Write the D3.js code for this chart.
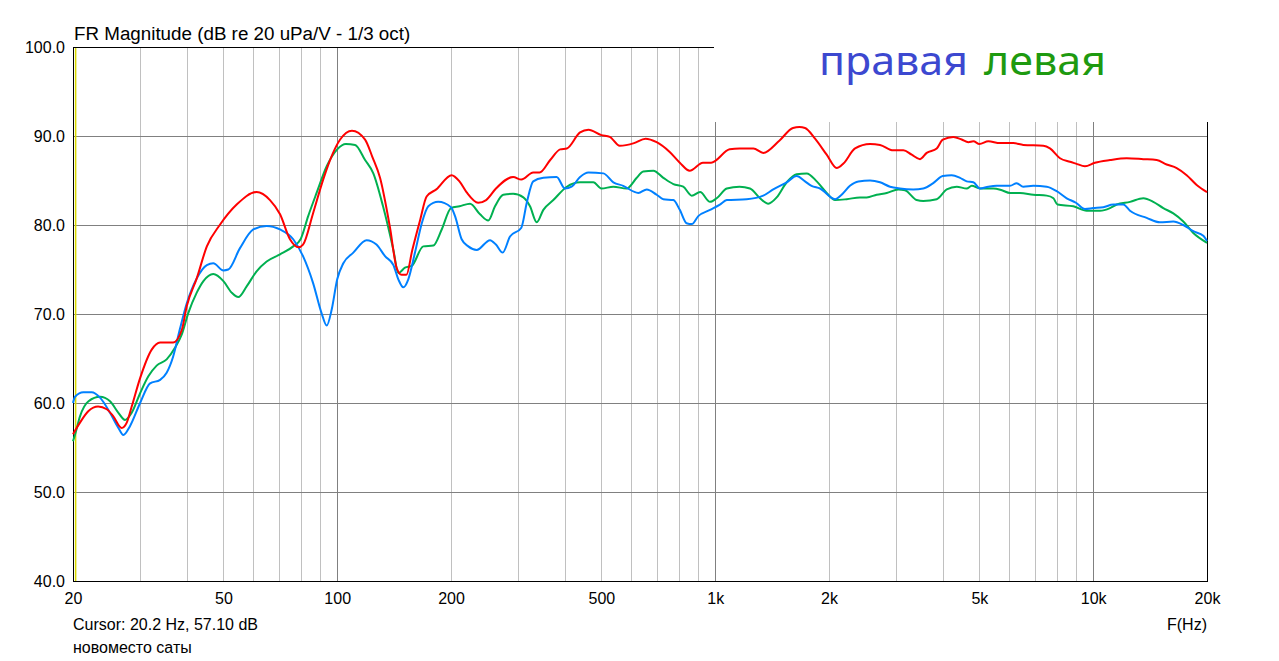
<!DOCTYPE html>
<html>
<head>
<meta charset="utf-8">
<script src="https://cdn.jsdelivr.net/npm/d3@7"></script>
<style>
  html, body { margin: 0; padding: 0; background: #fff; }
  svg { display: block; }
  .lbl { font-family: "Liberation Sans", Arial, sans-serif; fill: #000; }
  .leg { font-family: "Noto Sans", "Open Sans", sans-serif; }
</style>
</head>
<body>
<svg id="chart" width="1279" height="661"></svg>
<script>
// ---------- data ----------
const titleText = "FR Magnitude (dB re 20 uPa/V - 1/3 oct)";
const cursorText = "Cursor: 20.2 Hz, 57.10 dB";
const noteText = "новоместо саты";
const xAxisTitle = "F(Hz)";
const legendNames = ["правая", "левая"];

const yTicks = [40, 50, 60, 70, 80, 90, 100];
const xTickValues = [20, 50, 100, 200, 500, 1000, 2000, 5000, 10000, 20000];
const xTickLabels = ["20", "50", "100", "200", "500", "1k", "2k", "5k", "10k", "20k"];
const majorGridFreqs = [100, 1000, 10000];
const minorGridFreqs = [30, 40, 50, 60, 70, 80, 90, 200, 300, 400, 500, 600, 700, 800, 900,
                        2000, 3000, 4000, 5000, 6000, 7000, 8000, 9000];

// red (unlabelled) curve: [Hz, dB]
const redSeries = [[20,56.5],[20.87,57.8],[21.98,59.1],[23.3,59.6],[24.57,59.3],[25.57,58.5],[26.9,57.2],[27.75,57.8],[28.6,59.6],[30.1,62.8],[32.3,66.0],[34,66.8],[36.8,66.8],[38.8,68.2],[40,70.9],[42.5,74.0],[45.2,77.6],[48.9,80.0],[54.2,82.3],[61.2,83.7],[66.4,82.8],[70.6,81.2],[75,78.4],[79,77.5],[81.2,77.8],[86.3,81.3],[91.8,85.1],[97.5,88.1],[101.8,89.6],[109.4,90.6],[118.5,89.6],[124,87.6],[129.8,85.3],[137.8,79.8],[143.6,75.2],[148,74.4],[152.4,74.4],[158,77.2],[165.8,80.6],[172.4,83.2],[182.9,84.0],[200.8,85.6],[210.6,84.9],[219.8,83.7],[236,82.5],[247.7,82.8],[263,84.1],[292,85.4],[307,85.1],[330,85.9],[343,85.9],[366,87.3],[389,88.5],[405,88.6],[439,90.4],[462,90.7],[500,90.1],[526,89.9],[559,88.9],[610,89.2],[654,89.7],[700,89.3],[758,88.2],[806,87.0],[856,86.1],[928,87.0],[975,87.0],[1092,88.5],[1160,88.6],[1262,88.6],[1340,88.1],[1480,89.5],[1606,90.9],[1670,91.0],[1728,90.9],[1837,89.7],[1972,87.9],[2096,86.4],[2183,86.9],[2344,88.6],[2568,89.1],[2729,89.0],[2958,88.4],[3146,88.4],[3310,87.9],[3482,87.4],[3627,88.1],[3855,88.6],[4000,89.6],[4266,89.9],[4488,89.6],[4674,89.3],[4818,89.4],[5000,89.1],[5278,89.4],[5668,89.2],[6146,89.2],[6532,89.0],[7380,88.9],[7684,88.6],[8168,87.5],[8682,87.1],[9000,86.9],[9510,86.6],[10106,87.0],[11076,87.3],[12264,87.5],[13570,87.4],[14720,87.3],[15642,86.8],[16630,86.4],[17672,85.6],[18780,84.5],[20000,83.7]];

// green curve ("левая")
const greenSeries = [[20,55.7],[20.3,56.6],[20.87,58.5],[21.98,60.2],[23.58,60.7],[25.06,60.2],[26.37,58.9],[27.46,58.1],[28.6,58.9],[30.1,61.1],[31.65,63.0],[33.29,64.2],[35.38,64.9],[37.22,66.2],[38.8,67.7],[40.36,70.1],[42.5,72.4],[44.26,73.7],[47,74.5],[50,73.7],[52.58,72.4],[54.75,71.9],[57.6,73.1],[61.2,74.8],[65.07,75.9],[70.6,76.7],[76.5,77.6],[80,78.4],[83.8,81.0],[88.2,83.6],[93.8,86.6],[100,88.5],[105.4,89.1],[111.5,89.0],[118.5,87.3],[124.6,85.8],[132.2,82.1],[140.8,77.2],[145.1,74.6],[151.1,75.2],[157.4,75.4],[168.9,77.6],[179.6,77.7],[189,79.5],[200,81.9],[210.6,82.1],[224.6,82.4],[238.7,81.2],[251,80.5],[261.5,82.1],[275,83.4],[292,83.5],[310.8,83.1],[323.6,82.1],[337.2,80.3],[351,81.7],[373,82.8],[405,84.3],[439,84.8],[476,84.8],[500,84.1],[537.6,84.3],[583,84.1],[620,85.3],[645,86.0],[686,86.1],[729,85.3],[775,84.6],[823,84.3],[867,83.3],[912,83.7],[969,82.6],[1009,83.0],[1073,84.1],[1160,84.3],[1236,84.1],[1314,83.0],[1382,82.4],[1454,83.1],[1546,84.8],[1642,85.7],[1746,85.8],[1856,84.9],[1972,83.6],[2075,82.8],[2228,82.9],[2415,83.1],[2516,83.1],[2674,83.4],[2843,83.6],[3051,84.0],[3178,83.9],[3412,82.8],[3551,82.7],[3855,82.9],[4098,84.0],[4354,84.3],[4628,84.1],[4771,84.4],[5018,84.1],[5443,84.1],[5733,83.9],[6023,83.6],[6402,83.6],[6944,83.4],[7534,83.3],[7847,83.0],[8044,82.3],[8860,82.1],[9608,81.6],[10424,81.6],[11076,81.9],[11538,82.3],[12512,82.6],[13570,83.0],[14420,82.6],[15324,81.9],[16290,81.3],[17312,80.4],[18398,79.1],[20000,78.0]];

// blue curve ("правая")
const blueSeries = [[20,60.0],[20.25,60.7],[21.3,61.2],[22.4,61.2],[23.58,60.6],[25.06,58.9],[26.37,57.2],[27.18,56.4],[28.3,57.4],[30.1,60.0],[31.98,62.2],[34,62.6],[35.38,63.4],[36.8,65.2],[38.4,68.4],[40,71.2],[42.5,74.0],[45.2,75.5],[47,75.7],[50,74.9],[51.5,75.0],[55.3,77.4],[60,79.5],[65.07,79.9],[70.6,79.5],[76.5,78.4],[81.2,76.5],[86.3,73.5],[90.9,70.1],[93.8,68.7],[96.7,70.5],[100,73.9],[103.8,75.7],[110.3,76.9],[119.6,78.3],[127,77.8],[133.8,76.5],[140.8,75.5],[145.1,73.9],[149.6,73.0],[154.2,73.9],[160.6,76.9],[167.4,80.2],[174.2,82.1],[185,82.6],[200,82.0],[205,81.0],[213.4,78.4],[222.2,77.6],[233.9,77.2],[253.7,78.3],[263,77.8],[274,76.9],[286.5,78.7],[307,79.7],[317.3,82.5],[330,84.9],[351,85.3],[380.6,85.4],[400.5,84.1],[417,84.3],[439,85.4],[462,85.9],[506,85.8],[537.6,84.8],[571,84.4],[626,83.6],[659,84.0],[700,83.4],[729,82.9],[775,82.8],[806,81.7],[840,80.2],[867,80.1],[902,81.0],[969,81.7],[1029,82.3],[1073,82.8],[1211,82.9],[1340,83.3],[1424,84.0],[1546,84.8],[1642,85.5],[1728,84.9],[1798,84.4],[1894,84.1],[2075,82.9],[2160,83.4],[2272,84.4],[2392,84.9],[2568,85.0],[2729,84.8],[2900,84.3],[3082,84.1],[3342,84.0],[3551,84.1],[3774,84.7],[4000,85.5],[4222,85.6],[4444,85.3],[4628,84.9],[4818,84.8],[5018,84.1],[5278,84.3],[5554,84.4],[6023,84.4],[6274,84.7],[6532,84.3],[6944,84.4],[7534,84.3],[8004,83.8],[8510,83.0],[9000,82.5],[9510,81.8],[10000,81.9],[10634,82.0],[11302,82.3],[12012,82.3],[12512,81.6],[13850,80.8],[15020,80.3],[16290,80.4],[17312,80.0],[18398,79.3],[19554,78.8],[20000,78.2]];

const cursorFreq = 20.2;

// ---------- layout ----------
const X0 = 73, X1 = 1207, Y0 = 47, Y1 = 581;
const svg = d3.select("#chart");

const x = d3.scaleLog().domain([20, 20000]).range([X0, X1]);
const y = d3.scaleLinear().domain([40, 100]).range([Y1, Y0]);

const grid = svg.append("g").attr("shape-rendering", "crispEdges");

// vertical minor grid
grid.selectAll("line.vmin").data(minorGridFreqs).join("line")
  .attr("x1", d => Math.round(x(d)) + 0.5).attr("x2", d => Math.round(x(d)) + 0.5)
  .attr("y1", Y0).attr("y2", Y1)
  .attr("stroke", "#c0c0c0").attr("stroke-width", 1);
// vertical major grid
grid.selectAll("line.vmaj").data(majorGridFreqs).join("line")
  .attr("x1", d => Math.round(x(d)) + 0.5).attr("x2", d => Math.round(x(d)) + 0.5)
  .attr("y1", Y0).attr("y2", Y1)
  .attr("stroke", "#808080").attr("stroke-width", 1);
// horizontal grid
grid.selectAll("line.h").data(yTicks.filter(d => d > 40 && d < 100)).join("line")
  .attr("x1", X0).attr("x2", X1)
  .attr("y1", d => Math.round(y(d)) + 0.5).attr("y2", d => Math.round(y(d)) + 0.5)
  .attr("stroke", "#808080").attr("stroke-width", 1);

// frame
svg.append("rect")
  .attr("x", X0 + 0.5).attr("y", Y0 + 0.5)
  .attr("width", X1 - X0).attr("height", Y1 - Y0)
  .attr("fill", "none").attr("stroke", "#000").attr("stroke-width", 1)
  .attr("shape-rendering", "crispEdges");

// cursor line
svg.append("line")
  .attr("x1", x(cursorFreq) + 1).attr("x2", x(cursorFreq) + 1)
  .attr("y1", Y0 + 1).attr("y2", Y1)
  .attr("stroke", "#d8d800").attr("stroke-width", 1.5);

// white legend box covering the top-right corner
svg.append("rect")
  .attr("x", 714).attr("y", 0).attr("width", 1279 - 714).attr("height", 122)
  .attr("fill", "#fff");

// curves
const line = d3.line()
  .x(d => x(d[0])).y(d => y(d[1]))
  .curve(d3.curveMonotoneX);

const curves = [
  { data: greenSeries, color: "#00b050" },
  { data: blueSeries, color: "#0080ff" },
  { data: redSeries, color: "#ff0000" }
];
svg.append("g").selectAll("path").data(curves).join("path")
  .attr("d", d => line(d.data))
  .attr("fill", "none")
  .attr("stroke", d => d.color)
  .attr("stroke-width", 2)
  .attr("stroke-linejoin", "round");

// axes (labels only)
const yAxis = d3.axisLeft(y).tickValues(yTicks).tickFormat(d => d.toFixed(1))
  .tickSize(0).tickPadding(8);
const gy = svg.append("g").attr("transform", `translate(${X0},0)`).call(yAxis);
gy.select(".domain").remove();
gy.selectAll("text").attr("class", "lbl").attr("font-size", 16);
gy.attr("font-size", 16).attr("font-family", null);

const xAxis = d3.axisBottom(x).tickValues(xTickValues)
  .tickFormat((d, i) => xTickLabels[i]).tickSize(0).tickPadding(12);
const gx = svg.append("g").attr("transform", `translate(0,${Y1})`).call(xAxis);
gx.select(".domain").remove();
gx.selectAll("text").attr("class", "lbl").attr("font-size", 16);
gx.attr("font-size", 16).attr("font-family", null);

// title & footer texts
svg.append("text").attr("class", "lbl").attr("x", 74).attr("y", 39.5)
  .attr("font-size", 18.8).text(titleText);
svg.append("text").attr("class", "lbl").attr("x", 73).attr("y", 630)
  .attr("font-size", 16).text(cursorText);
svg.append("text").attr("class", "lbl").attr("x", 73).attr("y", 653)
  .attr("font-size", 16).text(noteText);
svg.append("text").attr("class", "lbl").attr("x", 1207).attr("y", 630)
  .attr("text-anchor", "end").attr("font-size", 16).text(xAxisTitle);

// legend words
const legend = [
  { text: legendNames[0], x: 819, len: 149, color: "#3c48d0" },
  { text: legendNames[1], x: 984, len: 122, color: "#1e9a10" }
];
svg.append("g").selectAll("text").data(legend).join("text")
  .attr("class", "leg")
  .attr("x", d => d.x).attr("y", 75)
  .attr("font-size", 40)
  .attr("textLength", d => d.len)
  .attr("lengthAdjust", "spacingAndGlyphs")
  .style("fill", d => d.color)
  .text(d => d.text);
</script>
</body>
</html>
